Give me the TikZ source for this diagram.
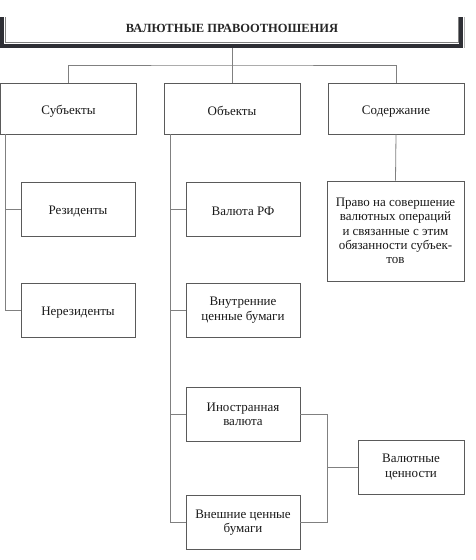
\documentclass[tikz,border=0pt]{standalone}
\usepackage{fontspec}
\setmainfont{Liberation Serif}
\usepackage{tikz}
\usetikzlibrary{calc,positioning}
\definecolor{linegray}{HTML}{808080}
\definecolor{boxgray}{HTML}{5A5A5A}
\definecolor{framedark}{HTML}{2E2F35}
\tikzset{
  box/.style={draw=boxgray, line width=0.8pt, minimum width=114pt, minimum height=54pt,
    inner sep=2pt, align=center, font=\fontsize{13}{14.3}\selectfont, text=black!90,
    execute at begin node={\rule{0pt}{14pt}}},
  wide/.style={box, minimum width=136pt, minimum height=51pt},
  link/.style={draw=linegray, line width=0.8pt}
}

\begin{document}
\begin{tikzpicture}[x=1pt,y=-1pt]
  \useasboundingbox(0,0)rectangle(476,560);
  \draw[framedark,line width=4pt](2,17)--(2,46)--(461,46)--(461,17);
  \draw[linegray,line width=0.8pt](5.5,17)--(5.5,42)--(458,42)--(458,17);
  \draw[linegray!60,line width=0.6pt](464,17)--(464,48);
  \node[font=\fontsize{12.5}{14}\selectfont\bfseries,text=black!85](title)at(232,28){ВАЛЮТНЫЕ ПРАВООТНОШЕНИЯ};
  \coordinate(top)at(232,48);
  \node[wide](subj)at(68.5,108.5){Субъекты};
  \node[wide](obj)at(232,108.5){Объекты};
  \node[wide](cont)at(396,108.5){Содержание};
  \node[box](res)at(78,209){Резиденты};
  \node[box](nres)at(78,310){Нерезиденты};
  \node[box](rub)at(243,209){Валюта РФ};
  \node[box](inner)at(243,310){Внутренние\\ценные бумаги};
  \node[box](forc)at(243,414.5){Иностранная\\валюта};
  \node[box](forsec)at(243,522.5){Внешние ценные\\бумаги};
  \node[box,minimum width=137pt,minimum height=100pt,execute at begin node={\rule{0pt}{20pt}}](right)at(395.5,231)
  {Право на совершение\\валютных операций\\и связанные с этим\\обязанности субъек-\\тов};
  \node[box,minimum width=106pt](val)at(411,467){Валютные\\ценности};
  \draw[link](top)--++(0,17)coordinate(bus);
  \draw[link](subj.north)|-(bus)-|(cont.north);
  \draw[link](bus)--(obj.north);
  \draw[link]([xshift=-63pt]subj.south)|-(nres.west);
  \draw[link]([xshift=-63pt]subj.south|-res.west)--(res.west);
  \draw[link]([xshift=-62pt]obj.south)|-(forsec.west);
  \foreach \n in {rub,inner,forc}
    \draw[link]([xshift=-62pt]obj.south|-\n.west)--(\n.west);
  \draw[link](cont.south)--(right.north);
  \draw[link](forc.east)--++(27,0)coordinate(br)|-(forsec.east);
  \draw[link](val.west)--(val.west-|br);
\end{tikzpicture}
\end{document}
